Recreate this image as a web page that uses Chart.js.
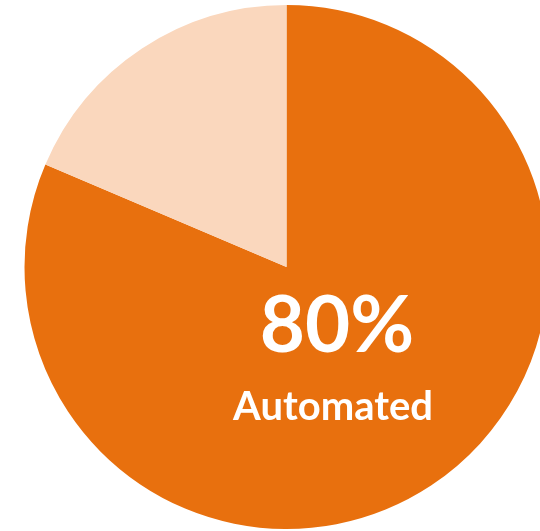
<!DOCTYPE html>
<html>
<head>
<meta charset="utf-8">
<script src="https://cdn.jsdelivr.net/npm/chart.js@4"></script>
<style>
    html, body { margin: 0; padding: 0; background: #fff; overflow: hidden; width: 540px; height: 531px; }
    #wrap { position: absolute; left: 0; top: 0; width: 573px; height: 534px; }
</style>
</head>
<body>
<div id="wrap"><canvas id="chart"></canvas></div>
<script>
// Values
const categories = ['Automated', 'Manual'];
const shares = [81.4, 18.6];
const sliceColors = ['#E8700E', '#FAD7BD'];
const bigLabel = '80%';
const smallLabel = 'Automated';

// Centre text drawn on top of the pie
const centreText = {
    id: 'centreText',
    afterDraw(chart) {
        const ctx = chart.ctx;
        ctx.save();
        ctx.fillStyle = '#ffffff';
        ctx.textAlign = 'center';
        ctx.textBaseline = 'alphabetic';
        ctx.font = 'bold 78px Lato';
        ctx.fillText(bigLabel, 337, 352);
        ctx.font = 'bold 40px Lato';
        ctx.fillText(smallLabel, 333, 420);
        ctx.restore();
    }
};

new Chart(document.getElementById('chart'), {
    type: 'pie',
    data: {
        labels: categories,
        datasets: [{
            data: shares,
            backgroundColor: sliceColors,
            borderWidth: 0
        }]
    },
    options: {
        responsive: true,
        maintainAspectRatio: false,
        animation: false,
        devicePixelRatio: 1,
        layout: { padding: 5 },
        plugins: {
            legend: { display: false },
            tooltip: { enabled: false }
        }
    },
    plugins: [centreText]
});
</script>
</body>
</html>
